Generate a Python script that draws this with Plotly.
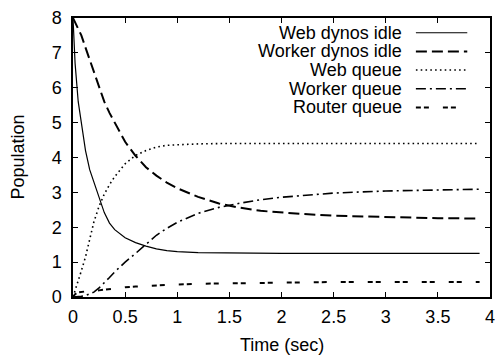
import plotly.graph_objects as go

# Time axis (sec)
t = [0, 0.02, 0.05, 0.08, 0.12, 0.16, 0.2, 0.25, 0.3, 0.35, 0.4, 0.5, 0.6, 0.7,
     0.8, 0.9, 1.0, 1.2, 1.4, 1.6, 1.8, 2.0, 2.2, 2.5, 3.0, 3.5, 3.9]

web_dynos_idle = [8, 6.7, 5.6, 4.95, 4.2, 3.65, 3.3, 2.85, 2.42, 2.12, 1.93, 1.70, 1.56, 1.46,
                  1.38, 1.33, 1.30, 1.27, 1.26, 1.25, 1.25, 1.25, 1.25, 1.25, 1.25, 1.25, 1.25]
worker_dynos_idle = [8, 7.88, 7.7, 7.5, 7.15, 6.8, 6.45, 6.02, 5.6, 5.28, 5.0, 4.45, 4.05, 3.72,
                     3.48, 3.28, 3.12, 2.87, 2.68, 2.56, 2.47, 2.42, 2.38, 2.33, 2.29, 2.26, 2.25]
web_queue = [0, 0.18, 0.45, 0.75, 1.15, 1.65, 2.15, 2.6, 2.95, 3.22, 3.45, 3.82, 4.06, 4.2,
             4.3, 4.35, 4.37, 4.39, 4.4, 4.4, 4.4, 4.4, 4.4, 4.4, 4.4, 4.4, 4.4]
worker_queue = [0, 0.0, 0.01, 0.02, 0.04, 0.08, 0.14, 0.26, 0.4, 0.56, 0.72, 1.0, 1.25, 1.52,
                1.77, 1.97, 2.14, 2.4, 2.57, 2.69, 2.79, 2.86, 2.91, 2.98, 3.04, 3.07, 3.09]
router_queue = [0, 0.08, 0.13, 0.15, 0.16, 0.17, 0.17, 0.19, 0.21, 0.23, 0.25, 0.28, 0.3, 0.32,
                0.33, 0.35, 0.36, 0.38, 0.39, 0.4, 0.41, 0.42, 0.42, 0.43, 0.43, 0.43, 0.43]

series_names = ["Web dynos idle", "Worker dynos idle", "Web queue", "Worker queue", "Router queue"]
series_values = [web_dynos_idle, worker_dynos_idle, web_queue, worker_queue, router_queue]
dashes = ["solid", "11px,5px", "1.6px,3.2px", "10px,4px,2px,4px", "5px,3px,5px,14px"]
widths = [1.2, 2.0, 1.6, 1.6, 2.0]

x_ticks = [0, 0.5, 1, 1.5, 2, 2.5, 3, 3.5, 4]
x_tick_text = ["0", "0.5", "1", "1.5", "2", "2.5", "3", "3.5", "4"]
y_ticks = [0, 1, 2, 3, 4, 5, 6, 7, 8]

FONT = "Liberation Sans, Arial, Helvetica, sans-serif"
FS = 18

fig = go.Figure()
for name, vals, d, w in zip(series_names, series_values, dashes, widths):
    fig.add_trace(go.Scatter(x=t, y=vals, mode="lines", name=name,
                             line=dict(color="black", width=w, dash=d),
                             showlegend=False))

# Gnuplot-style legend: right-aligned text with line sample to its right
row_y_px = [28, 47, 66, 85, 104]
plot_top, plot_bottom = 13, 297
plot_left, plot_right = 73, 495
H = plot_bottom - plot_top
W = plot_right - plot_left
text_right = (408 - plot_left) / W
samp_x0 = (420 - plot_left) / W
samp_x1 = (472 - plot_left) / W
for name, d, w, ypx in zip(series_names, dashes, widths, row_y_px):
    yp = (plot_bottom - ypx) / H
    fig.add_annotation(x=text_right, y=yp, xref="paper", yref="paper", text=name,
                       showarrow=False, xanchor="right", yanchor="middle",
                       font=dict(family=FONT, size=FS, color="black"))
    fig.add_shape(type="line", xref="paper", yref="paper", x0=samp_x0, x1=samp_x1,
                  y0=yp, y1=yp, line=dict(color="black", width=w, dash=d))

# Axis titles
fig.add_annotation(x=0.5, y=0, xref="paper", yref="paper", text="Time (sec)",
                   showarrow=False, xanchor="center", yanchor="middle", yshift=-48,
                   font=dict(family=FONT, size=FS, color="black"))
fig.add_annotation(x=0, y=0.5, xref="paper", yref="paper", text="Population",
                   showarrow=False, xanchor="center", yanchor="middle", xshift=-56,
                   textangle=-90, font=dict(family=FONT, size=FS, color="black"))

axis_common = dict(showline=True, linecolor="black", linewidth=1.5, mirror="ticks",
                   ticks="inside", ticklen=5, tickwidth=1, tickcolor="black",
                   showgrid=False, zeroline=False,
                   tickfont=dict(family=FONT, size=FS, color="black"))
fig.update_xaxes(range=[0, 4], tickvals=x_ticks, ticktext=x_tick_text,
                 ticklabelstandoff=3, **axis_common)
fig.update_yaxes(range=[0, 8], tickvals=y_ticks, ticklabelstandoff=6, **axis_common)

fig.update_layout(width=503, height=363, plot_bgcolor="white", paper_bgcolor="white",
                  margin=dict(l=plot_left, r=503 - plot_right, t=plot_top, b=363 - plot_bottom),
                  showlegend=False)

fig.write_html("out.html")
